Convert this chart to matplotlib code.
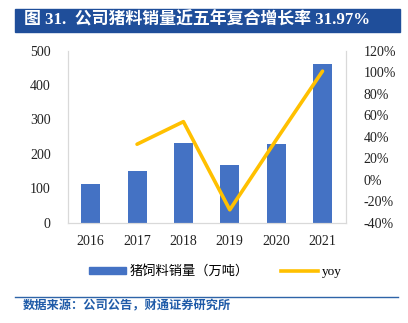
import matplotlib
matplotlib.use('Agg')
import matplotlib.pyplot as plt
import numpy as np
from matplotlib.patches import Rectangle
from matplotlib.lines import Line2D

years = ['2016', '2017', '2018', '2019', '2020', '2021']
sales = [112, 150, 231, 167, 229, 461]
yoy = [np.nan, 33, 54, -28, 37, 101]

left_ticks = [0, 100, 200, 300, 400, 500]
right_ticks = [-40, -20, 0, 20, 40, 60, 80, 100, 120]

title_text = '图 31.  公司猪料销量近五年复合增长率 31.97%'
source_text = '数据来源：公司公告，财通证券研究所'
bar_label = '猪饲料销量（万吨）'
line_label = 'yoy'

BAR_COLOR = '#4472C4'
LINE_COLOR = '#FFC000'
HEAD_BLUE = '#1F4E9A'
GRID_GRAY = '#D9D9D9'
SERIF = ['Liberation Serif', 'Noto Sans CJK SC']
CJK = ['Noto Sans CJK SC', 'DejaVu Sans']

plt.rcParams['font.family'] = SERIF

fig = plt.figure(figsize=(4.08, 3.23), dpi=100)
W, H = 408, 323

# title banner
fig.patches.append(Rectangle((15 / W, 1 - 32 / H), 385 / W, 23 / H,
                             transform=fig.transFigure, color=HEAD_BLUE, zorder=0))
fig.text(24 / W, 1 - 20.5 / H, title_text, color='white', fontsize=12.2,
         fontweight='bold', va='center', ha='left', family=SERIF)

ax = fig.add_axes([67.5 / W, 1 - 222.7 / H, 278.2 / W, 172 / H])
x = np.arange(len(years))
ax.bar(x, sales, width=0.41, color=BAR_COLOR, zorder=2)
ax.set_xlim(-0.5, len(years) - 0.5)
ax.set_ylim(0, 500)
ax.set_yticks(left_ticks)
ax.set_xticks(x)
ax.set_xticklabels(years)
ax.tick_params(length=0, labelsize=10, colors='#222222')
ax.tick_params(axis='y', pad=12)
ax.tick_params(axis='x', pad=9)
for side in ('left', 'bottom', 'right'):
    ax.spines[side].set_color(GRID_GRAY)
ax.spines['top'].set_visible(False)

ax2 = ax.twinx()
ax2.plot(x, yoy, color=LINE_COLOR, lw=2.6, solid_capstyle='round', zorder=3)
ax2.set_ylim(-40, 120)
ax2.set_yticks(right_ticks)
ax2.set_yticklabels([f'{t}%' for t in right_ticks])
ax2.tick_params(length=0, labelsize=10, colors='#222222', pad=13)
for side in ('left', 'bottom', 'right'):
    ax2.spines[side].set_color(GRID_GRAY)
ax2.spines['top'].set_visible(False)

handles = [Rectangle((0, 0), 1, 1, color=BAR_COLOR),
           Line2D([0], [0], color=LINE_COLOR, lw=2.6)]
leg = fig.legend(handles, [bar_label, line_label], loc='center',
                 bbox_to_anchor=(0.528, 0.159), ncol=2, frameon=False,
                 prop={'family': SERIF, 'size': 9.5}, handlelength=2.8,
                 handleheight=0.5, columnspacing=2.4, handletextpad=0.3)

# source footer
fig.add_artist(Line2D([15 / W, 398 / W], [1 - 296.7 / H] * 2,
                      transform=fig.transFigure, color='#2E64A8', lw=1))
fig.text(23 / W, 1 - 306 / H, source_text, color='#1F5BA8', fontsize=8.8,
         fontweight='bold', va='center', ha='left', family=CJK)

fig.savefig('out.png', dpi=100)
